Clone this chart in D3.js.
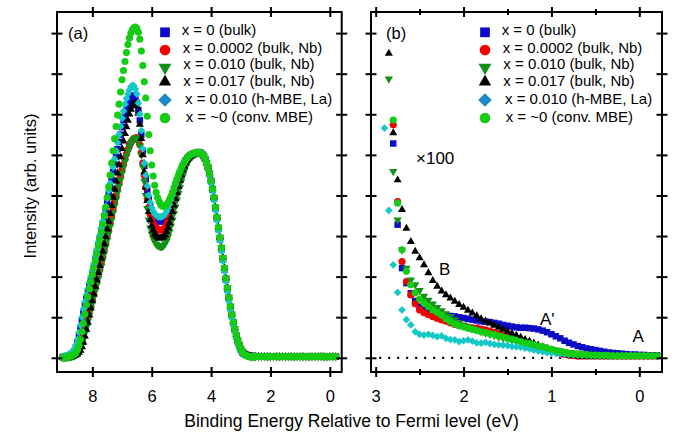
<!DOCTYPE html>
<html>
<head>
<meta charset="utf-8">
<script src="https://cdn.jsdelivr.net/npm/d3@7/dist/d3.min.js"></script>
<style>
  html, body { margin: 0; padding: 0; background: #ffffff; }
  svg { display: block; font-family: "Liberation Sans", Arial, Helvetica, sans-serif; }
</style>
</head>
<body>
<svg id="chart" width="687" height="434"></svg>
<script>
// ---------------------------------------------------------------
// Valence-band photoemission spectra, normalised at the 4.4 eV peak
// ---------------------------------------------------------------
const seriesLabels = [
  "x = 0 (bulk)",
  "x = 0.0002 (bulk, Nb)",
  "x = 0.010 (bulk, Nb)",
  "x = 0.017 (bulk, Nb)",
  "x = 0.010 (h-MBE, La)",
  "x = ~0 (conv. MBE)"
];

// Panel (a): binding energy grid (eV)
const energyA = [
  9.00, 8.95, 8.90, 8.85, 8.80, 8.75, 8.70, 8.65, 8.60, 8.55,
  8.50, 8.45, 8.40, 8.35, 8.30, 8.25, 8.20, 8.15, 8.10, 8.05,
  8.00, 7.95, 7.90, 7.85, 7.80, 7.75, 7.70, 7.65, 7.60, 7.55,
  7.50, 7.45, 7.40, 7.35, 7.30, 7.25, 7.20, 7.15, 7.10, 7.05,
  7.00, 6.95, 6.90, 6.85, 6.80, 6.75, 6.70, 6.65, 6.60, 6.55,
  6.50, 6.45, 6.40, 6.35, 6.30, 6.25, 6.20, 6.15, 6.10, 6.05,
  6.00, 5.95, 5.90, 5.85, 5.80, 5.75, 5.70, 5.65, 5.60, 5.55,
  5.50, 5.45, 5.40, 5.35, 5.30, 5.25, 5.20, 5.15, 5.10, 5.05,
  5.00, 4.95, 4.90, 4.85, 4.80, 4.75, 4.70, 4.65, 4.60, 4.55,
  4.50, 4.45, 4.40, 4.35, 4.30, 4.25, 4.20, 4.15, 4.10, 4.05,
  4.00, 3.95, 3.90, 3.85, 3.80, 3.75, 3.70, 3.65, 3.60, 3.55,
  3.50, 3.45, 3.40, 3.35, 3.30, 3.25, 3.20, 3.15, 3.10, 3.05,
  3.00, 2.95, 2.90, 2.85, 2.80, 2.75, 2.70, 2.65, 2.60, 2.55,
  2.50,
  2.40, 2.30, 2.20, 2.10, 2.00, 1.90, 1.80, 1.70, 1.60, 1.50,
  1.40, 1.30, 1.20, 1.10, 1.00, 0.90, 0.80, 0.70, 0.60, 0.50,
  0.40, 0.30, 0.20, 0.10, 0.00, -0.10, -0.20
];

const vbBulk0 = [
  0.02, 0.02, 0.03, 0.04, 0.05, 0.07, 0.09, 0.12, 0.17, 0.26,
  0.38, 0.54, 0.72, 0.91, 1.10, 1.28, 1.45, 1.60, 1.75, 1.90,
  2.05, 2.22, 2.40, 2.57, 2.75, 2.92, 3.10, 3.27, 3.45, 3.63,
  3.82, 4.01, 4.20, 4.39, 4.58, 4.76, 4.95, 5.14, 5.32, 5.50,
  5.68, 5.85, 6.00, 6.13, 6.25, 6.35, 6.42, 6.46, 6.45, 6.39,
  6.28, 6.10, 5.85, 5.50, 5.10, 4.73, 4.40, 4.12, 3.90, 3.73,
  3.60, 3.51, 3.45, 3.41, 3.38, 3.36, 3.36, 3.37, 3.39, 3.44,
  3.50, 3.58, 3.68, 3.80, 3.92, 4.05, 4.18, 4.30, 4.42, 4.53,
  4.63, 4.72, 4.80, 4.87, 4.92, 4.96, 4.99, 5.01, 5.03, 5.04,
  5.05, 5.06, 5.06, 5.05, 5.02, 4.97, 4.90, 4.80, 4.68, 4.53,
  4.35, 4.14, 3.92, 3.67, 3.42, 3.17, 2.92, 2.67, 2.42, 2.17,
  1.92, 1.68, 1.45, 1.23, 1.03, 0.85, 0.68, 0.53, 0.40, 0.29,
  0.20, 0.14, 0.10, 0.08, 0.06, 0.05, 0.05, 0.04, 0.04, 0.04,
  0.04,
  0.04, 0.04, 0.03, 0.04, 0.03, 0.03, 0.04, 0.03, 0.03, 0.03,
  0.04, 0.03, 0.03, 0.03, 0.03, 0.04, 0.03, 0.03, 0.03, 0.03,
  0.03, 0.04, 0.03, 0.03, 0.03, 0.03, 0.03
];

const vbNb0002 = [
  0.01, 0.01, 0.02, 0.02, 0.03, 0.04, 0.05, 0.06, 0.08, 0.11,
  0.15, 0.21, 0.30, 0.42, 0.55, 0.70, 0.85, 1.00, 1.15, 1.30,
  1.45, 1.60, 1.75, 1.90, 2.05, 2.20, 2.35, 2.51, 2.67, 2.83,
  3.00, 3.16, 3.33, 3.50, 3.67, 3.84, 4.00, 4.17, 4.33, 4.48,
  4.63, 4.77, 4.90, 5.02, 5.13, 5.22, 5.30, 5.36, 5.40, 5.42,
  5.42, 5.36, 5.25, 5.05, 4.80, 4.50, 4.20, 3.93, 3.70, 3.53,
  3.40, 3.31, 3.24, 3.20, 3.17, 3.15, 3.15, 3.15, 3.17, 3.21,
  3.27, 3.36, 3.46, 3.58, 3.72, 3.86, 4.00, 4.14, 4.27, 4.40,
  4.52, 4.63, 4.72, 4.80, 4.86, 4.91, 4.95, 4.98, 5.01, 5.03,
  5.04, 5.05, 5.05, 5.04, 5.02, 4.97, 4.90, 4.80, 4.68, 4.53,
  4.36, 4.16, 3.94, 3.70, 3.45, 3.20, 2.95, 2.70, 2.45, 2.20,
  1.95, 1.71, 1.48, 1.26, 1.06, 0.87, 0.70, 0.55, 0.42, 0.31,
  0.22, 0.16, 0.11, 0.08, 0.06, 0.05, 0.04, 0.03, 0.03, 0.03,
  0.03,
  0.03, 0.03, 0.03, 0.02, 0.03, 0.03, 0.03, 0.02, 0.03, 0.03,
  0.03, 0.03, 0.02, 0.03, 0.03, 0.03, 0.03, 0.02, 0.03, 0.03,
  0.03, 0.03, 0.03, 0.02, 0.03, 0.03, 0.03
];

const vbNb010 = [
  0.00, 0.00, 0.01, 0.01, 0.02, 0.02, 0.03, 0.04, 0.05, 0.07,
  0.10, 0.15, 0.22, 0.32, 0.45, 0.60, 0.75, 0.90, 1.05, 1.20,
  1.35, 1.50, 1.65, 1.80, 1.95, 2.10, 2.25, 2.41, 2.57, 2.73,
  2.90, 3.06, 3.23, 3.40, 3.57, 3.74, 3.90, 4.07, 4.23, 4.39,
  4.55, 4.70, 4.84, 4.98, 5.10, 5.20, 5.28, 5.35, 5.39, 5.42,
  5.42, 5.35, 5.22, 5.00, 4.70, 4.35, 4.00, 3.68, 3.40, 3.20,
  3.05, 2.94, 2.86, 2.80, 2.77, 2.75, 2.74, 2.74, 2.76, 2.81,
  2.88, 2.98, 3.10, 3.25, 3.40, 3.56, 3.72, 3.89, 4.05, 4.20,
  4.35, 4.48, 4.60, 4.71, 4.80, 4.87, 4.93, 4.97, 5.00, 5.02,
  5.04, 5.05, 5.05, 5.04, 5.02, 4.97, 4.90, 4.81, 4.70, 4.55,
  4.38, 4.18, 3.96, 3.72, 3.47, 3.22, 2.97, 2.72, 2.47, 2.22,
  1.97, 1.73, 1.50, 1.28, 1.08, 0.89, 0.72, 0.57, 0.44, 0.33,
  0.24, 0.17, 0.12, 0.08, 0.06, 0.05, 0.04, 0.03, 0.03, 0.03,
  0.03,
  0.03, 0.03, 0.03, 0.03, 0.02, 0.03, 0.03, 0.03, 0.03, 0.02,
  0.03, 0.03, 0.03, 0.03, 0.03, 0.02, 0.03, 0.03, 0.03, 0.03,
  0.03, 0.03, 0.02, 0.03, 0.03, 0.03, 0.03
];

const vbNb017 = [
  0.00, 0.01, 0.01, 0.01, 0.02, 0.02, 0.03, 0.04, 0.05, 0.07,
  0.09, 0.13, 0.18, 0.27, 0.38, 0.53, 0.70, 0.87, 1.05, 1.22,
  1.40, 1.57, 1.75, 1.92, 2.10, 2.27, 2.45, 2.62, 2.80, 2.98,
  3.17, 3.36, 3.55, 3.75, 3.95, 4.15, 4.35, 4.55, 4.75, 4.95,
  5.15, 5.34, 5.52, 5.69, 5.85, 6.00, 6.12, 6.22, 6.27, 6.28,
  6.20, 6.02, 5.75, 5.40, 5.00, 4.58, 4.20, 3.87, 3.60, 3.40,
  3.25, 3.14, 3.05, 3.00, 2.97, 2.95, 2.95, 2.96, 2.98, 3.03,
  3.10, 3.20, 3.32, 3.45, 3.60, 3.76, 3.92, 4.07, 4.22, 4.37,
  4.50, 4.62, 4.72, 4.80, 4.87, 4.92, 4.96, 4.99, 5.01, 5.03,
  5.04, 5.05, 5.05, 5.04, 5.02, 4.97, 4.90, 4.81, 4.70, 4.55,
  4.38, 4.18, 3.96, 3.72, 3.47, 3.22, 2.97, 2.72, 2.47, 2.22,
  1.97, 1.73, 1.50, 1.28, 1.08, 0.89, 0.72, 0.57, 0.44, 0.33,
  0.24, 0.17, 0.12, 0.08, 0.06, 0.05, 0.04, 0.03, 0.03, 0.03,
  0.03,
  0.03, 0.03, 0.03, 0.03, 0.03, 0.02, 0.03, 0.03, 0.03, 0.03,
  0.02, 0.03, 0.03, 0.03, 0.03, 0.03, 0.02, 0.03, 0.03, 0.03,
  0.03, 0.03, 0.03, 0.02, 0.03, 0.03, 0.03
];

const vbHmbeLa = [
  0.03, 0.04, 0.05, 0.06, 0.08, 0.10, 0.13, 0.17, 0.22, 0.32,
  0.45, 0.62, 0.80, 1.00, 1.20, 1.38, 1.55, 1.70, 1.85, 2.00,
  2.15, 2.32, 2.50, 2.67, 2.85, 3.02, 3.20, 3.37, 3.55, 3.73,
  3.92, 4.11, 4.30, 4.50, 4.70, 4.90, 5.10, 5.30, 5.50, 5.70,
  5.90, 6.08, 6.25, 6.39, 6.50, 6.60, 6.68, 6.71, 6.70, 6.62,
  6.50, 6.28, 6.00, 5.60, 5.15, 4.80, 4.50, 4.23, 4.00, 3.83,
  3.70, 3.61, 3.55, 3.51, 3.48, 3.47, 3.47, 3.48, 3.50, 3.54,
  3.60, 3.68, 3.78, 3.89, 4.00, 4.12, 4.25, 4.38, 4.50, 4.60,
  4.70, 4.78, 4.85, 4.90, 4.95, 4.98, 5.00, 5.02, 5.03, 5.04,
  5.05, 5.05, 5.05, 5.03, 5.00, 4.95, 4.88, 4.78, 4.65, 4.49,
  4.30, 4.10, 3.88, 3.63, 3.38, 3.13, 2.88, 2.63, 2.38, 2.13,
  1.88, 1.63, 1.40, 1.18, 0.98, 0.80, 0.63, 0.48, 0.36, 0.25,
  0.17, 0.12, 0.08, 0.06, 0.04, 0.04, 0.03, 0.03, 0.03, 0.03,
  0.03,
  0.03, 0.02, 0.03, 0.03, 0.03, 0.02, 0.03, 0.03, 0.02, 0.03,
  0.03, 0.03, 0.02, 0.03, 0.03, 0.03, 0.02, 0.03, 0.03, 0.03,
  0.02, 0.03, 0.03, 0.03, 0.03, 0.02, 0.03
];

const vbConvMbe = [
  0.01, 0.01, 0.02, 0.02, 0.03, 0.04, 0.05, 0.07, 0.09, 0.13,
  0.20, 0.31, 0.45, 0.64, 0.85, 1.08, 1.30, 1.50, 1.70, 1.88,
  2.05, 2.22, 2.40, 2.57, 2.75, 2.92, 3.10, 3.29, 3.50, 3.71,
  3.95, 4.21, 4.50, 4.80, 5.10, 5.40, 5.70, 5.98, 6.25, 6.55,
  6.85, 7.08, 7.30, 7.52, 7.72, 7.88, 8.00, 8.08, 8.13, 8.15,
  8.12, 8.02, 7.85, 7.56, 7.20, 6.80, 6.40, 5.95, 5.50, 5.10,
  4.75, 4.48, 4.25, 4.08, 3.95, 3.85, 3.78, 3.74, 3.73, 3.74,
  3.77, 3.82, 3.90, 3.98, 4.08, 4.19, 4.30, 4.40, 4.50, 4.59,
  4.68, 4.76, 4.82, 4.88, 4.93, 4.97, 5.00, 5.02, 5.04, 5.05,
  5.06, 5.06, 5.06, 5.05, 5.02, 4.97, 4.90, 4.80, 4.68, 4.54,
  4.36, 4.16, 3.95, 3.71, 3.46, 3.21, 2.96, 2.71, 2.46, 2.21,
  1.96, 1.72, 1.48, 1.26, 1.06, 0.87, 0.70, 0.55, 0.42, 0.31,
  0.22, 0.15, 0.10, 0.07, 0.05, 0.04, 0.03, 0.03, 0.03, 0.03,
  0.03,
  0.03, 0.03, 0.03, 0.03, 0.03, 0.03, 0.03, 0.03, 0.03, 0.03,
  0.03, 0.03, 0.03, 0.03, 0.03, 0.03, 0.03, 0.03, 0.03, 0.03,
  0.03, 0.03, 0.03, 0.03, 0.03, 0.03, 0.03
];

// Panel (b): near-Fermi-level region, intensities x100
const energyB = [
  2.90, 2.85, 2.80, 2.75, 2.70, 2.65, 2.60, 2.55, 2.50, 2.45,
  2.40, 2.35, 2.30, 2.25, 2.20, 2.15, 2.10, 2.05, 2.00, 1.95,
  1.90, 1.85, 1.80, 1.75, 1.70, 1.65, 1.60, 1.55, 1.50, 1.45,
  1.40, 1.35, 1.30, 1.25, 1.20, 1.15, 1.10, 1.05, 1.00, 0.95,
  0.90, 0.85, 0.80, 0.75, 0.70, 0.65, 0.60, 0.55, 0.50, 0.45,
  0.40, 0.35, 0.30, 0.25, 0.20, 0.15, 0.10, 0.05, 0.00, -0.05,
  -0.10, -0.15, -0.20
];

const gapBulk0 = [
  null, null, 5.28, 3.28, 2.21, 1.84, 1.59, 1.40, 1.26, 1.18,
  1.13, 1.09, 1.06, 1.05, 1.04, 1.03, 1.02, 1.00, 0.98, 0.96,
  0.94, 0.92, 0.90, 0.89, 0.88, 0.86, 0.84, 0.81, 0.79, 0.77,
  0.75, 0.74, 0.74, 0.73, 0.72, 0.70, 0.67, 0.63, 0.58, 0.53,
  0.48, 0.42, 0.37, 0.33, 0.29, 0.26, 0.23, 0.21, 0.19, 0.17,
  0.15, 0.13, 0.12, 0.11, 0.10, 0.09, 0.08, 0.08, 0.07, 0.07,
  0.06, 0.06, 0.06
];

const gapNb0002 = [
  null, null, 5.74, 3.85, 2.37, 1.88, 1.55, 1.33, 1.18, 1.11,
  1.06, 1.01, 0.97, 0.93, 0.90, 0.86, 0.82, 0.79, 0.77, 0.76,
  0.74, 0.73, 0.71, 0.69, 0.66, 0.63, 0.59, 0.55, 0.52, 0.49,
  0.46, 0.43, 0.39, 0.35, 0.31, 0.27, 0.24, 0.20, 0.17, 0.14,
  0.11, 0.08, 0.06, 0.05, 0.04, 0.04, 0.04, 0.04, 0.04, 0.04,
  0.04, 0.04, 0.04, 0.04, 0.04, 0.04, 0.04, 0.04, 0.04, 0.04,
  0.04, 0.04, 0.04
];

const gapNb010 = [
  null, 6.87, 4.59, 3.40, 2.66, 2.21, 1.92, 1.80, 1.66, 1.52,
  1.42, 1.33, 1.24, 1.16, 1.09, 1.02, 0.94, 0.86, 0.81, 0.77,
  0.73, 0.69, 0.65, 0.61, 0.58, 0.55, 0.52, 0.49, 0.47, 0.44,
  0.42, 0.39, 0.37, 0.34, 0.31, 0.28, 0.26, 0.23, 0.21, 0.19,
  0.17, 0.15, 0.13, 0.12, 0.10, 0.09, 0.08, 0.07, 0.07, 0.06,
  0.06, 0.05, 0.05, 0.05, 0.05, 0.05, 0.05, 0.05, 0.05, 0.05,
  0.05, 0.05, 0.05
];

const gapNb017 = [
  null, 7.50, 5.54, 4.38, 3.65, 3.19, 2.86, 2.62, 2.46, 2.29,
  2.09, 1.90, 1.76, 1.64, 1.55, 1.47, 1.39, 1.31, 1.24, 1.17,
  1.10, 1.03, 0.96, 0.90, 0.85, 0.80, 0.75, 0.70, 0.65, 0.60,
  0.55, 0.50, 0.45, 0.41, 0.36, 0.31, 0.27, 0.23, 0.19, 0.15,
  0.12, 0.09, 0.07, 0.05, 0.04, 0.04, 0.03, 0.03, 0.03, 0.03,
  0.03, 0.03, 0.03, 0.03, 0.03, 0.03, 0.03, 0.03, 0.03, 0.03,
  0.03, 0.03, 0.03
];

const gapHmbeLa = [
  5.66, 3.63, 2.29, 1.61, 1.18, 0.94, 0.81, 0.64, 0.58, 0.56,
  0.58, 0.55, 0.52, 0.54, 0.48, 0.45, 0.44, 0.40, 0.42, 0.44,
  0.41, 0.37, 0.36, 0.38, 0.35, 0.33, 0.32, 0.31, 0.30, 0.28,
  0.27, 0.26, 0.24, 0.22, 0.19, 0.17, 0.15, 0.13, 0.12, 0.11,
  0.10, 0.09, 0.08, 0.07, 0.07, 0.06, 0.06, 0.05, 0.05, 0.05,
  0.05, 0.05, 0.05, 0.05, 0.05, 0.05, 0.05, 0.05, 0.05, 0.05,
  0.05, 0.05, 0.05
];

const gapConvMbe = [
  null, null, 5.86, 3.81, 2.66, 2.13, 1.80, 1.60, 1.45, 1.35,
  1.26, 1.18, 1.12, 1.05, 0.96, 0.89, 0.83, 0.79, 0.76, 0.73,
  0.70, 0.67, 0.64, 0.62, 0.59, 0.57, 0.54, 0.51, 0.48, 0.46,
  0.43, 0.40, 0.37, 0.35, 0.32, 0.29, 0.27, 0.24, 0.21, 0.18,
  0.16, 0.13, 0.11, 0.10, 0.09, 0.08, 0.08, 0.07, 0.07, 0.06,
  0.06, 0.06, 0.05, 0.05, 0.05, 0.05, 0.05, 0.05, 0.05, 0.05,
  0.05, 0.05, 0.05
];

// Axis ticks and labels
const ticksA = [8, 6, 4, 2, 0];
const ticksB = [3, 2, 1, 0];
const minorTicksB = [2.5, 1.5, 0.5];
const intensityTicks = [0, 1, 2, 3, 4, 5, 6, 7, 8];

// ---------------------------------------------------------------
// Styles for each sample
// ---------------------------------------------------------------
const styles = [
  { shape: "square",   color: "#0c0cc6", legendColor: "#0c0cc6" },
  { shape: "circle",   color: "#f20000", legendColor: "#f20000" },
  { shape: "triDown",  color: "#14901a", legendColor: "#14901a" },
  { shape: "triUp",    color: "#000000", legendColor: "#000000" },
  { shape: "diamond",  color: "#14c8c8", legendColor: "#1f88cc" },
  { shape: "circle",   color: "#14cc14", legendColor: "#14cc14" }
];

function symbolPath(shape, scale) {
  const base = {
    square:  [d3.symbolSquare, 42],
    circle:  [d3.symbolCircle, 40],
    triDown: [d3.symbolTriangle, 30],
    triUp:   [d3.symbolTriangle, 28],
    diamond: [d3.symbolSquare, 30]
  }[shape];
  return d3.symbol().type(base[0]).size(base[1] * scale * scale)();
}
function symbolRotation(shape) {
  if (shape === "triDown") return 180;
  if (shape === "diamond") return 45;
  return 0;
}

const svg = d3.select("#chart");
const frameTop = 12, frameBottom = 372;
const y = d3.scaleLinear().domain([-0.35, 8.52]).range([frameBottom, frameTop]);

const panels = [
  {
    left: 57, right: 341.7, domain: [9.19, -0.40],
    ticks: ticksA, minor: [], energy: energyA,
    series: [vbBulk0, vbNb0002, vbNb010, vbNb017, vbHmbeLa, vbConvMbe],
    tag: "(a)", tagX: 68, legendX: 165
  },
  {
    left: 371, right: 662, domain: [3.053, -0.258],
    ticks: ticksB, minor: minorTicksB, energy: energyB,
    series: [gapBulk0, gapNb0002, gapNb010, gapNb017, gapHmbeLa, gapConvMbe],
    tag: "(b)", tagX: 386, legendX: 485
  }
];

// legend row placement (marker centre y, text baseline y, text x offset)
const legendRows = [
  { my: 32.3,  ty: 35.0,  tx: 16.7 },
  { my: 50.0,  ty: 52.5,  tx: 17.7 },
  { my: 67.5,  ty: 69.0,  tx: 18.3 },
  { my: 82.0,  ty: 86.0,  tx: 18.3 },
  { my: 100.0, ty: 104.0, tx: 20.0 },
  { my: 118.0, ty: 121.5, tx: 20.7 }
];

function styleTicks(g) {
  g.select(".domain").remove();
  g.selectAll(".tick line")
    .attr("stroke", "#000").attr("stroke-width", 2);
  return g;
}

panels.forEach((p, pi) => {
  const x = d3.scaleLinear().domain(p.domain).range([p.left, p.right]);
  const g = svg.append("g");

  // zero reference for the magnified panel
  if (pi === 1) {
    g.append("line")
      .attr("x1", x(2.96)).attr("x2", x(-0.2))
      .attr("y1", y(0)).attr("y2", y(0))
      .attr("stroke", "#000").attr("stroke-width", 2.2)
      .attr("stroke-dasharray", "2,7");
  }

  // data markers
  p.series.forEach((vals, si) => {
    const st = styles[si];
    const pts = p.energy.map((e, i) => ({ e, v: vals[i] })).filter(d => d.v !== null);
    const path = symbolPath(st.shape, 1);
    const rot = symbolRotation(st.shape);
    g.append("g").selectAll("path").data(pts).join("path")
      .attr("d", path)
      .attr("fill", st.color)
      .attr("transform", d => `translate(${x(d.e)},${y(d.v)}) rotate(${rot})`);
  });

  // bottom axis with labels
  const gb = g.append("g").attr("transform", `translate(0,${frameBottom})`)
    .call(d3.axisBottom(x).tickValues(p.ticks).tickSize(5).tickFormat(d3.format("d")));
  styleTicks(gb);
  gb.selectAll(".tick line").attr("y1", -5).attr("y2", 5);
  gb.selectAll(".tick text")
    .attr("y", 29.5).attr("dy", null)
    .attr("fill", "#000").attr("font-size", 16.5)
    .attr("font-family", "Liberation Sans, Arial, sans-serif");

  // top axis (marks only)
  const gt = g.append("g").attr("transform", `translate(0,${frameTop})`)
    .call(d3.axisTop(x).tickValues(p.ticks).tickSize(5).tickFormat(""));
  styleTicks(gt);
  gt.selectAll(".tick line").attr("y1", -5).attr("y2", 5);

  // minor ticks
  if (p.minor.length) {
    [frameBottom, frameTop].forEach(yy => {
      const gm = g.append("g").attr("transform", `translate(0,${yy})`)
        .call(d3.axisBottom(x).tickValues(p.minor).tickSize(3).tickFormat(""));
      styleTicks(gm);
      gm.selectAll(".tick line").attr("y1", -3).attr("y2", 3);
    });
  }

  // left and right intensity ticks (no labels)
  [p.left, p.right].forEach(xx => {
    const gy = g.append("g").attr("transform", `translate(${xx},0)`)
      .call(d3.axisLeft(y).tickValues(intensityTicks).tickSize(5).tickFormat(""));
    styleTicks(gy);
    gy.selectAll(".tick line").attr("x1", -5.5).attr("x2", 5.5);
  });

  // frame
  g.append("rect")
    .attr("x", p.left).attr("y", frameTop)
    .attr("width", p.right - p.left).attr("height", frameBottom - frameTop)
    .attr("fill", "none").attr("stroke", "#000").attr("stroke-width", 2);

  // panel tag
  g.append("text").attr("x", p.tagX).attr("y", 39)
    .attr("font-size", 16.5).attr("fill", "#000").text(p.tag);

  // legend
  const lg = g.append("g").attr("transform", `translate(${p.legendX},0)`);
  seriesLabels.forEach((lab, si) => {
    const st = styles[si];
    const row = legendRows[si];
    const sc = st.shape === "diamond" ? 1.75 : (st.shape.startsWith("tri") ? 1.55 : 1.5);
    lg.append("path")
      .attr("d", symbolPath(st.shape, sc))
      .attr("fill", st.legendColor)
      .attr("transform", `translate(0,${row.my}) rotate(${symbolRotation(st.shape)})`);
    lg.append("text")
      .attr("x", row.tx).attr("y", row.ty)
      .attr("font-size", 15).attr("fill", "#000")
      .text(lab);
  });
});

// annotations in the magnified panel
const notes = [
  { text: "\u00d7100", x: 416, y: 164 },
  { text: "B", x: 439, y: 275 },
  { text: "A'", x: 540, y: 325 },
  { text: "A", x: 632.5, y: 341.5 }
];
svg.append("g").selectAll("text").data(notes).join("text")
  .attr("x", d => d.x).attr("y", d => d.y)
  .attr("font-size", 17).attr("fill", "#000")
  .text(d => d.text);

// axis titles
svg.append("text")
  .attr("x", 351.5).attr("y", 427)
  .attr("text-anchor", "middle").attr("font-size", 17.5).attr("fill", "#000")
  .text("Binding Energy Relative to Fermi level (eV)");

svg.append("text")
  .attr("transform", "translate(36,186) rotate(-90)")
  .attr("text-anchor", "middle").attr("font-size", 16.5).attr("fill", "#000")
  .text("Intensity (arb. units)");
</script>
</body>
</html>
